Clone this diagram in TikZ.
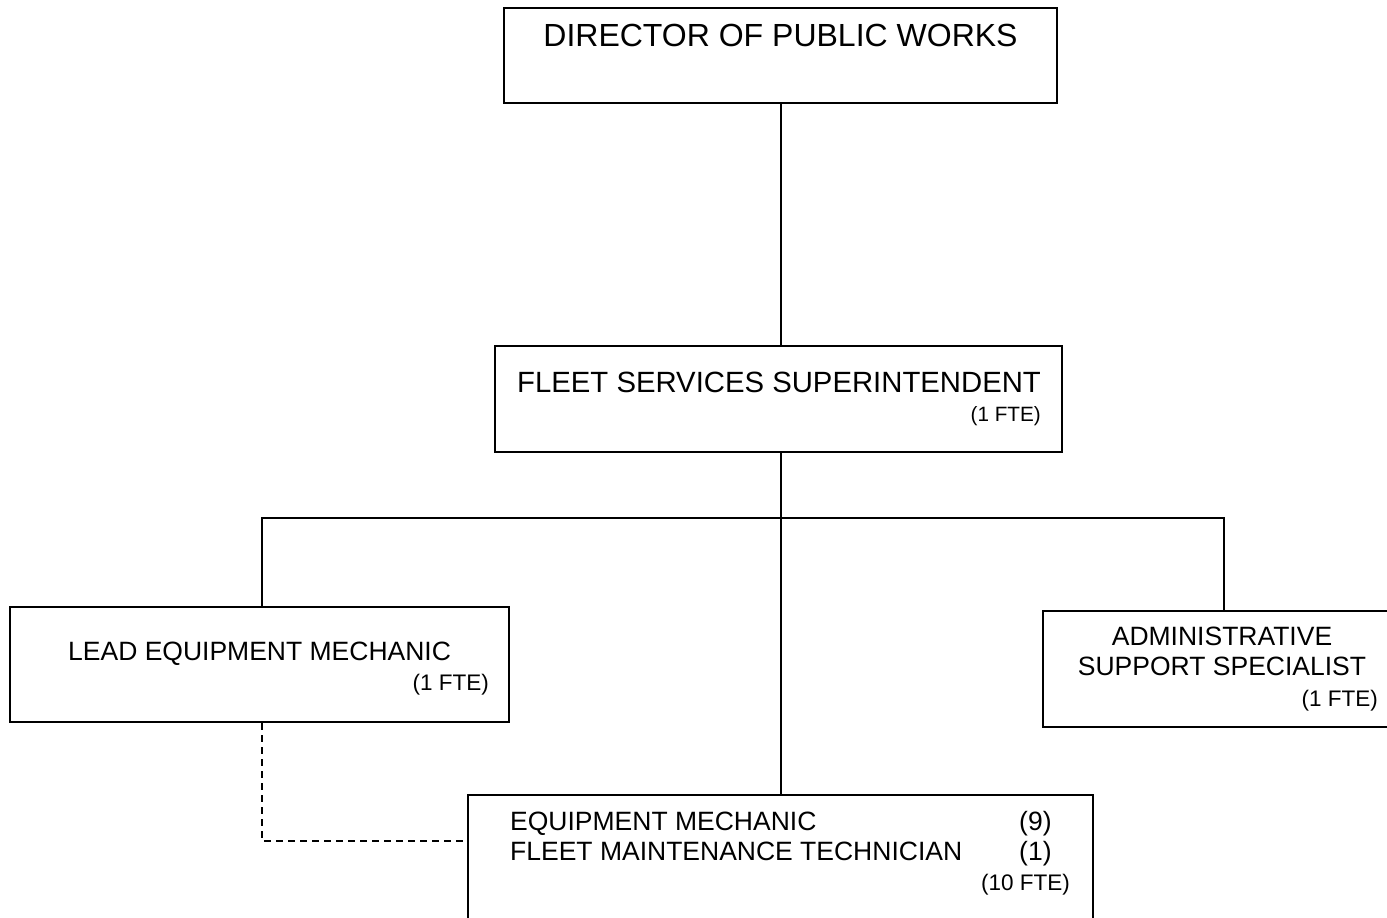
\documentclass[tikz,border=0pt]{standalone}
\usepackage{fontspec}
\setmainfont{Liberation Sans}
\begin{document}
\begin{tikzpicture}[x=1pt,y=-1pt,
  orgbox/.style={draw=black, line width=2pt, inner sep=0pt},
  link/.style={draw=black, line width=2pt},
  dashlink/.style={draw=black, line width=1.6pt, dash pattern=on 7pt off 5pt},
  label/.style={inner sep=0pt, font=\fontsize{26.5}{30}\selectfont},
  toplabel/.style={inner sep=0pt, font=\fontsize{32}{36}\selectfont},
  midlabel/.style={inner sep=0pt, font=\fontsize{29.3}{34}\selectfont},
  ftelabel/.style={inner sep=0pt, font=\fontsize{22.5}{26}\selectfont},
  smallfte/.style={inner sep=0pt, font=\fontsize{20.7}{24}\selectfont}]
\useasboundingbox (0,0) rectangle (1387,918);
\clip (0,0) rectangle (1387,918);
\fill[white] (0,0) rectangle (1387,918);

% boxes
\node[orgbox, minimum width=553pt, minimum height=95pt]  (dir)   at (780.5,55.5) {};
\node[orgbox, minimum width=567pt, minimum height=106pt] (fleet) at (778.5,399) {};
\node[orgbox, minimum width=499pt, minimum height=115pt] (lead)  at (259.5,664.5) {};
\node[orgbox, minimum width=377pt, minimum height=116pt] (admin) at (1231.5,669) {};
\node[orgbox, minimum width=625pt, minimum height=165pt] (crew)  at (780.5,877.5) {};

% box texts
\node[toplabel, anchor=base] (dirT) at (780.5,46.5) {DIRECTOR OF PUBLIC WORKS};

\node[midlabel, anchor=base west] (fleetT) at (517,392) {FLEET SERVICES SUPERINTENDENT};
\node[smallfte, anchor=base east] (fleetF) at (1041,421) {(1 FTE)};

\node[label, anchor=base west] (leadT) at (68,660) {LEAD EQUIPMENT MECHANIC};
\node[ftelabel, anchor=base east] (leadF) at (489,690) {(1 FTE)};

\node[label, anchor=base] (adminA) at (1222,645.5) {ADMINISTRATIVE};
\node[label, anchor=base] (adminB) at (1222,675.5) {SUPPORT SPECIALIST};
\node[ftelabel, anchor=base east] (adminF) at (1378,706) {(1 FTE)};

\node[label, anchor=base west] (crewA)  at (510,830.5) {EQUIPMENT MECHANIC};
\node[label, anchor=base west] (crewAn) at (1019,830.5) {(9)};
\node[label, anchor=base west] (crewB)  at (510,860.5) {FLEET MAINTENANCE TECHNICIAN};
\node[label, anchor=base west] (crewBn) at (1019,860.5) {(1)};
\node[ftelabel, anchor=base east] (crewF) at (1070,890.5) {(10 FTE)};

% reporting lines
\coordinate (busL) at (262,518);
\coordinate (busR) at (1224,518);
\coordinate (dl) at (262,841);
\draw[link] (dir.south) -- (dir.south |- fleet.north);
\draw[link] (fleet.south -| crew.north) -- (crew.north);
\draw[link] (lead.north -| busL) -- (busL) -- (busR) -- (admin.north -| busR);
\draw[dashlink] (lead.south -| dl) -- (dl) -- (dl -| crew.west);
\end{tikzpicture}
\end{document}
